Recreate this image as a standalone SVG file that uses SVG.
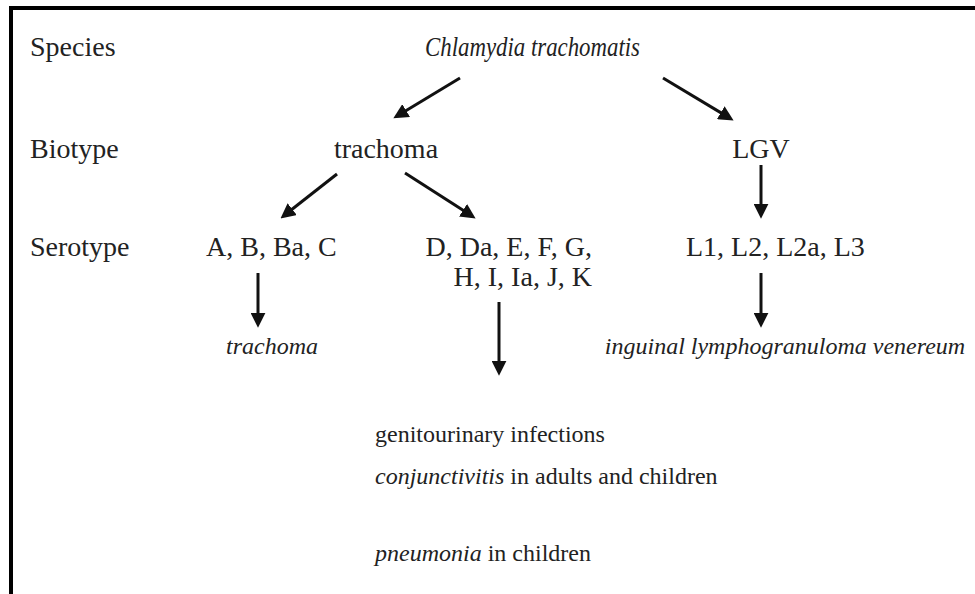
<svg xmlns="http://www.w3.org/2000/svg" width="975" height="594" viewBox="0 0 975 594">
<style>
.t{font-family:"Liberation Serif","Times New Roman",serif;fill:#222;}
.l{font-size:28px;}
.i{font-style:italic;}
.s{font-size:24px;}
.c{stroke:#111;stroke-width:3;fill:none;}
</style>
<defs>
<marker id="ah" viewBox="0 0 14 14" markerWidth="15" markerHeight="15" markerUnits="userSpaceOnUse" refX="4" refY="7" orient="auto">
<path d="M0,0 L14,7 L0,14 z" fill="#111"/>
</marker>
</defs>
<rect width="975" height="594" fill="#fff"/>
<path d="M11,594 V8 H975" stroke="#000" stroke-width="4" fill="none"/>
<g id="labels">
<text class="t l" x="30" y="56">Species</text>
<text class="t l" x="30" y="158">Biotype</text>
<text class="t l" x="30" y="256">Serotype</text>
</g>
<g id="species"><text class="t l i" x="425" y="56" textLength="215" lengthAdjust="spacingAndGlyphs">Chlamydia trachomatis</text></g>
<g id="biotype-trachoma"><text class="t l" x="386" y="158" text-anchor="middle">trachoma</text></g>
<g id="biotype-lgv"><text class="t l" x="761" y="158" text-anchor="middle">LGV</text></g>
<g id="sero-abc"><text class="t l" x="206" y="256">A, B, Ba, C</text></g>
<g id="sero-d"><text class="t l" x="592" y="256" text-anchor="end">D, Da, E, F, G,</text><text class="t l" x="592" y="286" text-anchor="end">H, I, Ia, J, K</text></g>
<g id="sero-l"><text class="t l" x="686" y="256">L1, L2, L2a, L3</text></g>
<g id="dis-trachoma"><text class="t s i" x="272" y="354" text-anchor="middle">trachoma</text></g>
<g id="dis-lgv"><text class="t s i" x="785" y="354" text-anchor="middle">inguinal lymphogranuloma venereum</text></g>
<g id="dis-d">
<text class="t s" x="375" y="442">genitourinary infections</text>
<text class="t s" x="375" y="484"><tspan font-style="italic">conjunctivitis</tspan> in adults and children</text>
<text class="t s" x="375" y="561"><tspan font-style="italic">pneumonia</tspan> in children</text>
</g>
<g id="connectors">
<line class="c" x1="460" y1="78" x2="402.5" y2="112.8" marker-end="url(#ah)"/>
<line class="c" x1="663" y1="78" x2="724.4" y2="114.9" marker-end="url(#ah)"/>
<line class="c" x1="337" y1="174" x2="288.9" y2="211.8" marker-end="url(#ah)"/>
<line class="c" x1="405" y1="173" x2="466.6" y2="212.6" marker-end="url(#ah)"/>
<line class="c" x1="761" y1="165" x2="761" y2="208" marker-end="url(#ah)"/>
<line class="c" x1="258" y1="273" x2="258" y2="317" marker-end="url(#ah)"/>
<line class="c" x1="499" y1="302" x2="499" y2="365" marker-end="url(#ah)"/>
<line class="c" x1="761" y1="273" x2="761" y2="317" marker-end="url(#ah)"/>
</g>
</svg>
